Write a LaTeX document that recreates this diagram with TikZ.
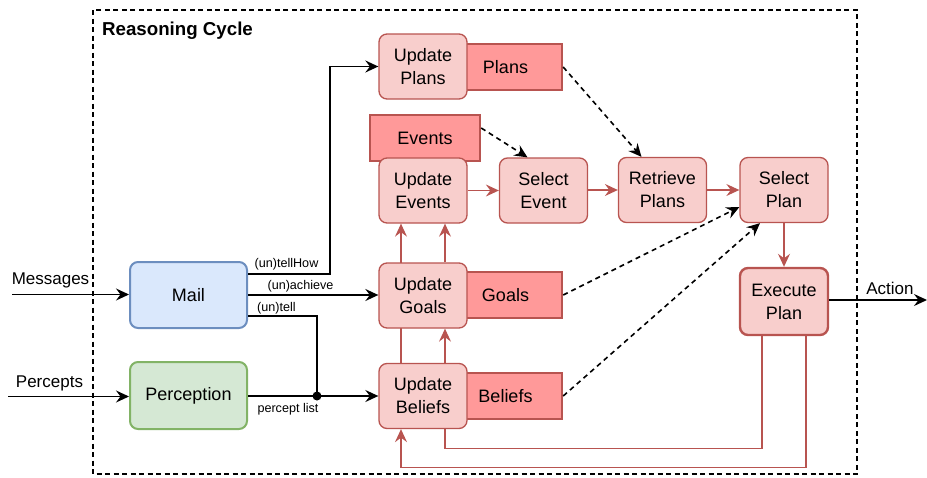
\documentclass[tikz,border=0pt]{standalone}
\usepackage{fontspec}
\setmainfont{Liberation Sans}
\usetikzlibrary{arrows.meta,backgrounds}

\definecolor{procfill}{HTML}{F8CECC}
\definecolor{procline}{HTML}{B85450}
\definecolor{storefill}{HTML}{FF9999}
\definecolor{mailfill}{HTML}{DAE8FC}
\definecolor{mailline}{HTML}{6C8EBF}
\definecolor{percfill}{HTML}{D5E8D4}
\definecolor{percline}{HTML}{82B366}

\tikzset{
  boxfont/.style={font=\fontsize{18}{23}\selectfont},
  proc/.style={draw=procline, fill=procfill, rounded corners=8pt, line width=1.3pt,
    minimum width=88pt, minimum height=65pt, align=center, inner sep=0pt, boxfont},
  execbox/.style={proc, line width=2.4pt, minimum height=67pt},
  store/.style={draw=procline, fill=storefill, line width=2.4pt,
    minimum height=46pt, inner sep=0pt, boxfont},
  inbox/.style={rounded corners=8pt, line width=2pt, minimum width=117pt,
    minimum height=66pt, inner sep=0pt, boxfont},
  outer/.style={font=\fontsize{17}{20}\selectfont, inner sep=0pt},
  small/.style={font=\fontsize{12.6}{15}\selectfont, inner sep=0pt},
  tip/.style={-{Stealth[length=13pt,width=12pt,inset=4.5pt]}},
  blk/.style={draw=black, line width=1.7pt},
  blkarr/.style={blk, tip},
  redarr/.style={draw=procline, line width=1.3pt, tip},
  redln/.style={draw=procline, line width=1.3pt},
  dasharr/.style={draw=black, line width=1.6pt, dash pattern=on 5pt off 4pt, tip},
}

\begin{document}
\begin{tikzpicture}[x=1pt, y=-1pt]
\useasboundingbox (0,0) rectangle (927,477);

% reasoning-cycle frame
\draw[line width=1.5pt, dash pattern=on 5pt off 3.5pt] (93,10) rectangle (857,474);
\node[anchor=west, inner sep=0pt, font=\fontsize{18.7}{21}\selectfont\bfseries] (title) at (102,31) {Reasoning Cycle};

% data stores (drawn first so the process boxes overlap them)
\node[store, minimum width=113pt] (plans) at (505.5,67) {Plans};
\node[store, minimum width=110pt] (events) at (425,138) {Events};
\node[store, minimum width=113pt] (goals) at (505.5,295) {Goals};
\node[store, minimum width=113pt] (beliefs) at (505.5,396) {Beliefs};

% processes
\node[proc] (uplans) at (423,66.5) {Update\\Plans};
\node[proc] (uevents) at (423,190.5) {Update\\Events};
\node[proc] (selev) at (543.5,190.5) {Select\\Event};
\node[proc] (retr) at (662.5,190) {Retrieve\\Plans};
\node[proc] (selplan) at (784,190) {Select\\Plan};
\node[execbox] (exec) at (784,301.5) {Execute\\Plan};
\node[proc] (ugoals) at (423,295.5) {Update\\Goals};
\node[proc] (ubel) at (423,396) {Update\\Beliefs};

% inputs
\node[inbox, draw=mailline, fill=mailfill] (mail) at (188.5,295) {Mail};
\node[inbox, draw=percline, fill=percfill, minimum height=67pt] (perc) at (188.5,395.5) {Perception};

% outside labels and free ends
\node[outer] (lmsg) at (50.5,280) {Messages};
\node[outer] (lperc) at (49.5,383) {Percepts};
\node[outer] (lact) at (890,288) {Action};
\coordinate (msgin) at (12,294.5);
\coordinate (percin) at (8,396.5);
\coordinate (actout) at (927,300);
\coordinate (jn) at (317,396);

\draw[blkarr] (msgin) -- (mail.west |- msgin);
\draw[blkarr] (percin) -- (perc.west |- percin);
\draw[blkarr] (exec.east |- actout) -- (actout);

% mail and perception outputs
\draw[blkarr] ([yshift=21pt]mail.east) -- ++(82,0) |- (uplans.west);
\draw[blkarr] (mail.east) -- (ugoals.west |- mail.east);
\draw[blk] ([yshift=-21pt]mail.east) -| (jn);
\draw[blkarr] (perc.east |- jn) -- (ubel.west |- jn);
\fill (jn) circle (4.5pt);
\node[small] (ltellhow) at (286.5,264) {(un)tellHow};
\node[small] (lachieve) at (300.5,286) {(un)achieve};
\node[small] (ltell) at (276.5,308) {(un)tell};
\node[small] (lplist) at (288,409) {percept list};

% reasoning flow
\draw[redarr] (uevents.east) -- (selev.west);
\draw[redarr] (selev.east |- retr.west) -- (retr.west);
\draw[redarr] (retr.east) -- (selplan.west);
\draw[redarr] (selplan.south) -- (exec.north);
\begin{scope}[on background layer]
  \draw[redarr] ([xshift=-22pt]ubel.north) -- ([xshift=-22pt]uevents.south);
\end{scope}
\draw[redarr] ([xshift=22pt]ubel.north) -- ([xshift=22pt]ugoals.south);
\draw[redarr] ([xshift=22pt]ugoals.north) -- ([xshift=22pt]uevents.south);

% feedback from plan execution
\draw[redln] ([xshift=-22pt]exec.south) -- ++(0,112) -| ([xshift=22pt]ubel.south);
\draw[redarr] ([xshift=22pt]exec.south) -- ++(0,131) -| ([xshift=-22pt]ubel.south);

% data used in selection
\draw[dasharr] (plans.east) -- ([xshift=-21pt]retr.north);
\draw[dasharr] ([yshift=10pt]events.east) -- ([xshift=-16pt]selev.north);
\draw[dasharr] (goals.east) -- ([yshift=-17pt]selplan.west);
\draw[dasharr] (beliefs.east) -- ([xshift=-24pt]selplan.south);
\end{tikzpicture}
\end{document}
